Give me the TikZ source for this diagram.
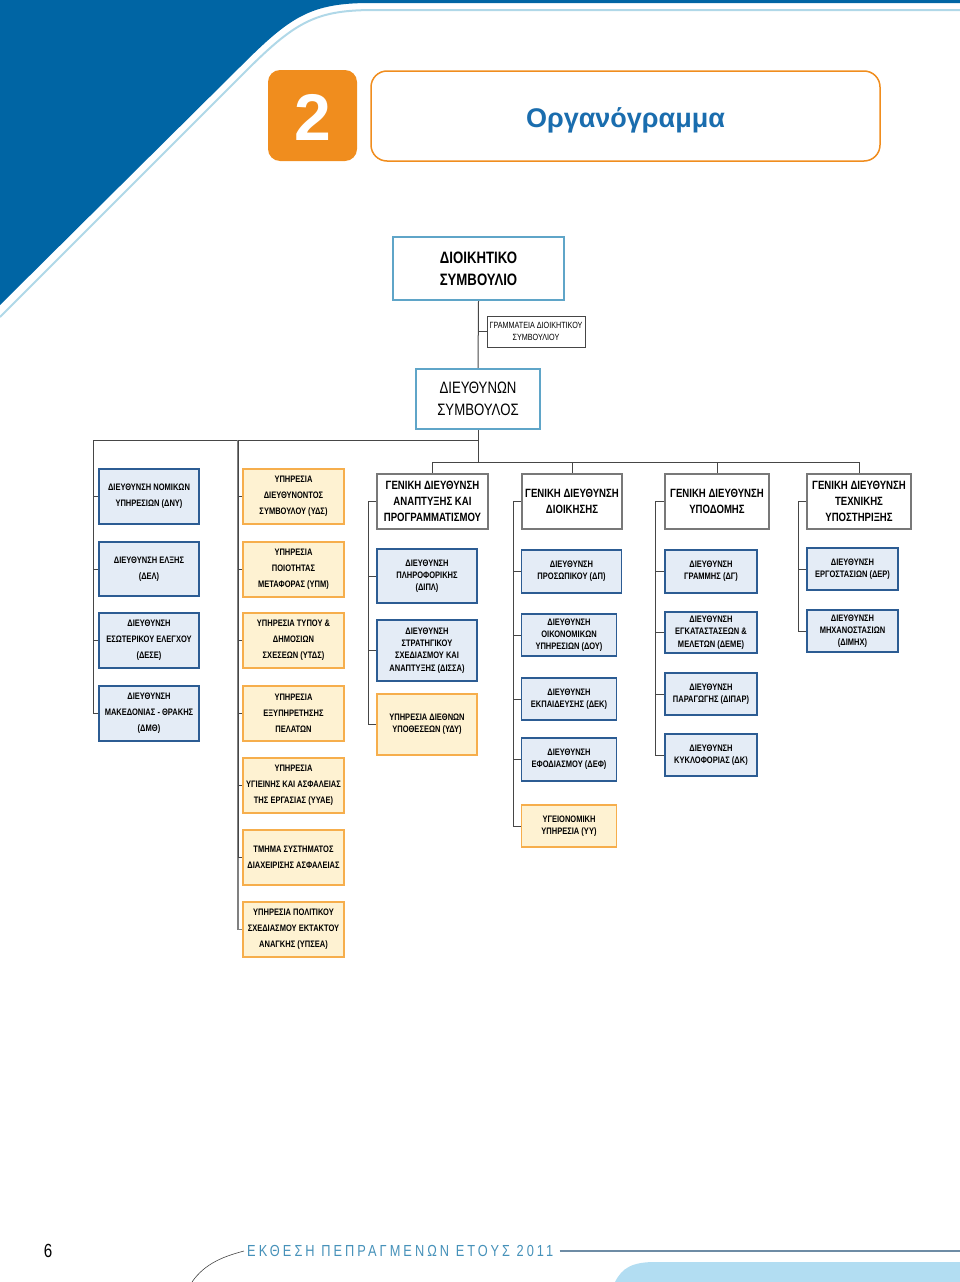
\documentclass[tikz,border=0pt]{standalone}
\usepackage{fontspec}
\setmainfont{Liberation Sans}
\newfontfamily\nar[FakeStretch=0.8]{Liberation Sans}
\newfontfamily\footfont[FakeStretch=0.8,LetterSpace=19]{Liberation Sans}
\definecolor{pageblue}{RGB}{0,101,164}
\definecolor{paleline}{RGB}{176,216,232}
\definecolor{orng}{RGB}{240,141,30}
\definecolor{titleblue}{RGB}{26,109,174}
\definecolor{topb}{RGB}{95,165,200}
\definecolor{dirf}{RGB}{228,236,246}
\definecolor{dirb}{RGB}{44,92,147}
\definecolor{svcf}{RGB}{254,242,210}
\definecolor{svcb}{RGB}{246,174,76}
\definecolor{gdb}{RGB}{120,120,120}
\definecolor{linec}{RGB}{70,70,70}
\definecolor{footblue}{RGB}{70,145,185}
\definecolor{footline}{RGB}{110,140,165}
\definecolor{footfill}{RGB}{178,221,242}
\begin{document}
\begin{tikzpicture}[x=1pt,y=-1pt,
  conn/.style={draw=linec,line width=1pt},
  bx/.style 2 args={minimum width=#1,minimum height=#2},
  base/.style={inner sep=0pt,align=center},
  dir/.style={base,draw=dirb,fill=dirf,line width=1.4pt},
  svc/.style={base,draw=svcb,fill=svcf,line width=1.4pt},
  gd/.style={base,draw=gdb,fill=white,line width=1.8pt,font=\nar\bfseries\fontsize{12}{16}\selectfont},
  topbox/.style={base,draw=topb,fill=white,line width=2.2pt},
  fa/.style={font=\nar\bfseries\fontsize{9.4}{16}\selectfont},
  fb/.style={font=\nar\bfseries\fontsize{9.4}{12.3}\selectfont}]
\useasboundingbox (0,0) rectangle (960,1282);
% page decoration
\fill[pageblue] (0,0) -- (960,0) -- (960,3) -- (370,3) .. controls (310,3) and (290,17) .. (240,67) -- (0,305) -- cycle;
\draw[paleline,line width=2pt] (0,317) -- (247,70) .. controls (297,20) and (318,10) .. (375,10) -- (960,10);
% heading
\node[fill=orng,rounded corners=12pt,minimum width=89,minimum height=91,inner sep=0pt] (num) at (312.5,115.5) {};
\node[text=white,font=\bfseries\fontsize{66}{66}\selectfont] (numtxt) at (312.5,117) {2};
\node[draw=orng,line width=1.5pt,rounded corners=16pt,fill=white,minimum width=509,minimum height=90,inner sep=0pt] (title) at (625.5,116) {};
\node[text=titleblue,font=\bfseries\fontsize{27}{30}\selectfont] (titletxt) at (625.5,120) {Οργανόγραμμα};
% top of chart
\node[topbox,bx={171}{63},font=\nar\bfseries\fontsize{16.5}{22}\selectfont] (board) at (478.5,268.5) {ΔΙΟΙΚΗΤΙΚΟ\\ΣΥΜΒΟΥΛΙΟ};
\node[base,draw=linec,line width=0.9pt,fill=white,bx={98}{31},font=\nar\fontsize{9}{12}\selectfont] (sec) at (536,331.5) {ΓΡΑΜΜΑΤΕΙΑ ΔΙΟΙΚΗΤΙΚΟΥ\\ΣΥΜΒΟΥΛΙΟΥ};
\node[topbox,bx={124}{60},font=\nar\fontsize{16.5}{22}\selectfont] (ceo) at (478,399) {ΔΙΕΥΘΥΝΩΝ\\ΣΥΜΒΟΥΛΟΣ};
\coordinate (secj) at (478,331.5);
\coordinate (j440) at (478,440);
\coordinate (hub) at (478,462);
\coordinate (c1top) at (93,440);
\coordinate (c2top) at (238,440);
\draw[conn] (board.south) -- (ceo.north);
\draw[conn] (secj) -- (sec.west);
\draw[conn] (ceo.south) -- (hub);
\draw[conn] (c1top) -- (j440);
% general directorates
\node[gd,bx={111}{55}] (gd1) at (432.5,501.5) {ΓΕΝΙΚΗ ΔΙΕΥΘΥΝΣΗ\\ΑΝΑΠΤΥΞΗΣ ΚΑΙ\\ΠΡΟΓΡΑΜΜΑΤΙΣΜΟΥ};
\node[gd,bx={100}{55}] (gd2) at (572,501.5) {ΓΕΝΙΚΗ ΔΙΕΥΘΥΝΣΗ\\ΔΙΟΙΚΗΣΗΣ};
\node[gd,bx={104}{55}] (gd3) at (717,501.5) {ΓΕΝΙΚΗ ΔΙΕΥΘΥΝΣΗ\\ΥΠΟΔΟΜΗΣ};
\node[gd,bx={104}{55}] (gd4) at (859,501.5) {ΓΕΝΙΚΗ ΔΙΕΥΘΥΝΣΗ\\ΤΕΧΝΙΚΗΣ\\ΥΠΟΣΤΗΡΙΞΗΣ};
\draw[conn] (hub) -| (gd1.north);
\draw[conn] (hub) -| (gd2.north);
\draw[conn] (hub) -| (gd3.north);
\draw[conn] (hub) -| (gd4.north);
% column 1
\node[dir,fa,bx={100}{55}] (dny) at (149,496.5) {ΔΙΕΥΘΥΝΣΗ ΝΟΜΙΚΩΝ\\ΥΠΗΡΕΣΙΩΝ (ΔΝΥ)};
\node[dir,fa,bx={100}{54}] (del) at (149,569) {ΔΙΕΥΘΥΝΣΗ ΕΛΞΗΣ\\(ΔΕΛ)};
\node[dir,fa,bx={100}{55}] (dese) at (149,640.5) {ΔΙΕΥΘΥΝΣΗ\\ΕΣΩΤΕΡΙΚΟΥ ΕΛΕΓΧΟΥ\\(ΔΕΣΕ)};
\node[dir,fa,bx={100}{55}] (dmth) at (149,713.5) {ΔΙΕΥΘΥΝΣΗ\\ΜΑΚΕΔΟΝΙΑΣ - ΘΡΑΚΗΣ\\(ΔΜΘ)};
\foreach \n in {dny,del,dese,dmth} \draw[conn] (c1top) |- (\n.west);
% column 2
\node[svc,fa,bx={101}{55}] (yds) at (293.5,496.5) {ΥΠΗΡΕΣΙΑ\\ΔΙΕΥΘΥΝΟΝΤΟΣ\\ΣΥΜΒΟΥΛΟΥ (ΥΔΣ)};
\node[svc,fa,bx={101}{55}] (ypm) at (293.5,569.5) {ΥΠΗΡΕΣΙΑ\\ΠΟΙΟΤΗΤΑΣ\\ΜΕΤΑΦΟΡΑΣ (ΥΠΜ)};
\node[svc,fa,bx={101}{55}] (ytds) at (293.5,640.5) {ΥΠΗΡΕΣΙΑ ΤΥΠΟΥ \&\\ΔΗΜΟΣΙΩΝ\\ΣΧΕΣΕΩΝ (ΥΤΔΣ)};
\node[svc,fa,bx={101}{55}] (yep) at (293.5,713.5) {ΥΠΗΡΕΣΙΑ\\ΕΞΥΠΗΡΕΤΗΣΗΣ\\ΠΕΛΑΤΩΝ};
\node[svc,fa,bx={101}{55}] (yyae) at (293.5,785.5) {ΥΠΗΡΕΣΙΑ\\ΥΓΙΕΙΝΗΣ ΚΑΙ ΑΣΦΑΛΕΙΑΣ\\ΤΗΣ ΕΡΓΑΣΙΑΣ (ΥΥΑΕ)};
\node[svc,fa,bx={101}{55}] (tsda) at (293.5,857.5) {ΤΜΗΜΑ ΣΥΣΤΗΜΑΤΟΣ\\ΔΙΑΧΕΙΡΙΣΗΣ ΑΣΦΑΛΕΙΑΣ};
\node[svc,fa,bx={101}{55}] (ypsea) at (293.5,929.5) {ΥΠΗΡΕΣΙΑ ΠΟΛΙΤΙΚΟΥ\\ΣΧΕΔΙΑΣΜΟΥ ΕΚΤΑΚΤΟΥ\\ΑΝΑΓΚΗΣ (ΥΠΣΕΑ)};
\draw[draw=gray,line width=1.8pt] (c2top) |- (ypsea.west);
\foreach \n in {yds,ypm,ytds,yep,yyae,tsda} \draw[conn] (c2top) |- (\n.west);
% column 3
\coordinate (b3) at (368,501.5);
\node[dir,fb,bx={100}{54}] (dipl) at (427,576) {ΔΙΕΥΘΥΝΣΗ\\ΠΛΗΡΟΦΟΡΙΚΗΣ\\(ΔΙΠΛ)};
\node[dir,fb,bx={100}{61}] (dissa) at (427,650.5) {ΔΙΕΥΘΥΝΣΗ\\ΣΤΡΑΤΗΓΙΚΟΥ\\ΣΧΕΔΙΑΣΜΟΥ ΚΑΙ\\ΑΝΑΠΤΥΞΗΣ (ΔΙΣΣΑ)};
\node[svc,fb,bx={100}{61}] (ydy) at (427,724.5) {ΥΠΗΡΕΣΙΑ ΔΙΕΘΝΩΝ\\ΥΠΟΘΕΣΕΩΝ (ΥΔΥ)};
\draw[conn] (gd1.west) -- (b3);
\foreach \n in {dipl,dissa,ydy} \draw[conn] (b3) |- (\n.west);
% column 4
\coordinate (b4) at (513,501.5);
\node[dir,fb,bx={100}{43}] (dp) at (571.5,571.5) {ΔΙΕΥΘΥΝΣΗ\\ΠΡΟΣΩΠΙΚΟΥ (ΔΠ)};
\node[dir,fb,bx={95}{42}] (doy) at (569,635) {ΔΙΕΥΘΥΝΣΗ\\ΟΙΚΟΝΟΜΙΚΩΝ\\ΥΠΗΡΕΣΙΩΝ (ΔΟΥ)};
\node[dir,fb,bx={95}{42}] (dek) at (569,699) {ΔΙΕΥΘΥΝΣΗ\\ΕΚΠΑΙΔΕΥΣΗΣ (ΔΕΚ)};
\node[dir,fb,bx={95}{43}] (def) at (569,759.5) {ΔΙΕΥΘΥΝΣΗ\\ΕΦΟΔΙΑΣΜΟΥ (ΔΕΦ)};
\node[svc,fb,bx={95}{42}] (yy) at (569,826) {ΥΓΕΙΟΝΟΜΙΚΗ\\ΥΠΗΡΕΣΙΑ (ΥΥ)};
\draw[conn] (gd2.west) -- (b4);
\foreach \n in {dp,doy,dek,def,yy} \draw[conn] (b4) |- (\n.west);
% column 5
\coordinate (b5) at (655,501.5);
\node[dir,fb,bx={92}{43}] (dg) at (711,571.5) {ΔΙΕΥΘΥΝΣΗ\\ΓΡΑΜΜΗΣ (ΔΓ)};
\node[dir,fb,bx={92}{41}] (deme) at (711,632.5) {ΔΙΕΥΘΥΝΣΗ\\ΕΓΚΑΤΑΣΤΑΣΕΩΝ \&\\ΜΕΛΕΤΩΝ (ΔΕΜΕ)};
\node[dir,fb,bx={92}{42}] (dipar) at (711,694) {ΔΙΕΥΘΥΝΣΗ\\ΠΑΡΑΓΩΓΗΣ (ΔΙΠΑΡ)};
\node[dir,fb,bx={92}{42}] (dk) at (711,755) {ΔΙΕΥΘΥΝΣΗ\\ΚΥΚΛΟΦΟΡΙΑΣ (ΔΚ)};
\draw[conn] (gd3.west) -- (b5);
\foreach \n in {dg,deme,dipar,dk} \draw[conn] (b5) |- (\n.west);
% column 6
\coordinate (b6) at (798,501.5);
\node[dir,fb,bx={91}{42}] (der) at (852.5,569) {ΔΙΕΥΘΥΝΣΗ\\ΕΡΓΟΣΤΑΣΙΩΝ (ΔΕΡ)};
\node[dir,fb,bx={91}{42}] (dimix) at (852.5,631) {ΔΙΕΥΘΥΝΣΗ\\ΜΗΧΑΝΟΣΤΑΣΙΩΝ\\(ΔΙΜΗΧ)};
\draw[conn] (gd4.west) -- (b6);
\foreach \n in {der,dimix} \draw[conn] (b6) |- (\n.west);
% footer
\fill[footfill] (615,1282) .. controls (622,1268) and (632,1262) .. (655,1262) -- (960,1262) -- (960,1282) -- cycle;
\node[font=\nar\fontsize{19}{22}\selectfont] (pg) at (48,1251) {6};
\node[text=footblue,font=\footfont\fontsize{16}{18}\selectfont,anchor=west,inner sep=0pt] (foot) at (247,1251) {ΕΚΘΕΣΗ ΠΕΠΡΑΓΜΕΝΩΝ ΕΤΟΥΣ 2011};
\coordinate (fl) at (960,1251);
\draw[footline,line width=1.5pt] ([xshift=6pt]foot.east) -- (fl);
\draw[linec,line width=0.6pt] (192,1282) .. controls (205,1263) and (225,1256) .. ([xshift=-3pt]foot.west);
\end{tikzpicture}
\end{document}
